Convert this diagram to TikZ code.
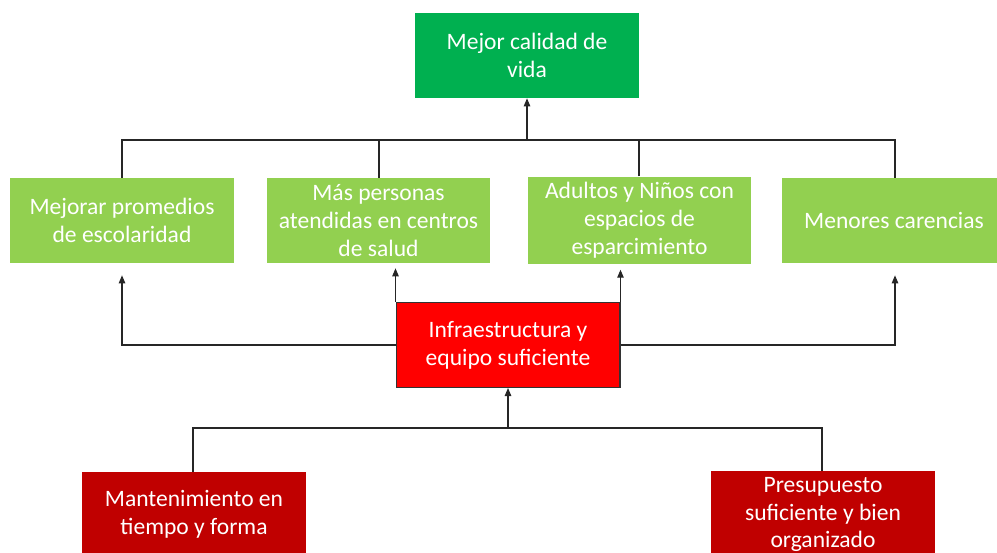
\documentclass[tikz,border=0pt]{standalone}
\usepackage{fontspec}
\setmainfont{Carlito}
\usetikzlibrary{positioning}
\usetikzlibrary{arrows.meta}
\definecolor{vfuerte}{HTML}{00B050}
\definecolor{vclaro}{HTML}{92D050}
\definecolor{rojo}{HTML}{FF0000}
\definecolor{rojoosc}{HTML}{C00000}
\tikzset{
    mybox/.style = {rectangle, minimum width = 4.48cm, minimum height = 1.7cm, align=center, text=white, font=\fontsize{13.4}{15.9}\selectfont},
    mynodeg/.style = {mybox, fill=vfuerte},
    mynodel/.style = {mybox, fill=vclaro},
    mynoder/.style = {mybox, fill=rojo, draw=black!80, line width=0.6pt},
    mynoded/.style = {mybox, fill=rojoosc},
    edgen/.style = {line width=0.6pt, draw=black!85},
    edgea/.style = {edgen, -{Triangle[length=1.6mm,width=1.3mm]}}
}
\begin{document}
\begin{tikzpicture}[x=0.02cm, y=-0.02cm]
  \useasboundingbox (0,0) rectangle (997,552);

  % fin
  \node[mynodeg] (vida) at (527,55.5) {Mejor calidad de\\vida};

  % efectos
  \node[mynodel] (prom) at (122,220.5) {Mejorar promedios\\de escolaridad};
  \node[mynodel] (salud) at (378.5,220.5) {Más personas\\atendidas en centros\\de salud};
  \node[mynodel] (esp) at (639.5,220.5) {Adultos y Niños con\\espacios de\\esparcimiento};
  \node[mynodel] (car) at (894,220.5) {Menores carencias};

  % centro
  \node[mynoder] (infra) at (508,345) {Infraestructura y\\equipo suficiente};

  % causas
  \node[mynoded] (mant) at (194,514.5) {Mantenimiento en\\tiempo y forma};
  \node[mynoded] (pres) at (823,514.5) {Presupuesto\\suficiente y bien\\organizado};

  \coordinate (jt) at (527,140);
  \coordinate (jb) at (508,428);

  % arriba
  \draw[edgea] (jt) -- (vida.south);
  \draw[edgen] (prom.north -| 122,0) |- (jt) -| (car.north -| 895,0);
  \draw[edgen] (salud.north -| 379,0) -- (jt -| 379,0);
  \draw[edgen] (esp.north -| 639,0) -- (jt -| 639,0);

  % medio
  \draw[edgea, shorten >=0.24cm] (infra.west) -| (prom.south);
  \draw[edgea, shorten >=0.24cm] (infra.east) -| (car.south -| 895,0);
  \draw[edgea, shorten >=0.1cm] (infra.north west) -- (infra.north west |- salud.south);
  \draw[edgea, shorten >=0.1cm] (infra.north east) -- (infra.north east |- esp.south);

  % abajo
  \draw[edgea] (jb) -- (infra.south);
  \draw[edgen] (mant.north -| 193,0) |- (jb) -| (pres.north -| 822,0);
\end{tikzpicture}
\end{document}
